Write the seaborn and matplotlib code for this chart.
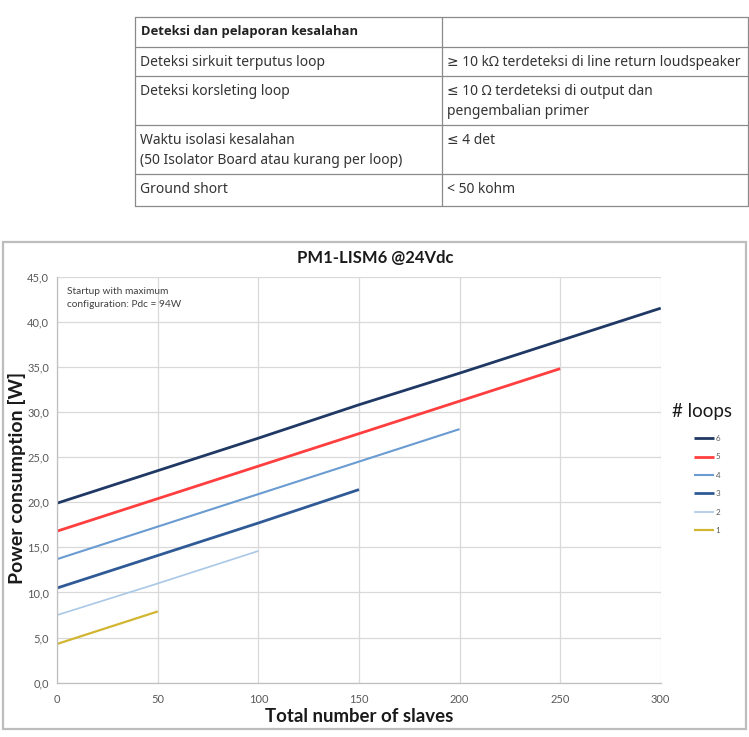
import matplotlib
matplotlib.use("Agg")
import matplotlib.pyplot as plt
import seaborn as sns
import pandas as pd
from matplotlib.ticker import FuncFormatter, MultipleLocator
from matplotlib.lines import Line2D

# ---- table content ----
table_rows = [
    ("Deteksi dan pelaporan kesalahan", ""),
    ("Deteksi sirkuit terputus loop", "≥ 10 kΩ terdeteksi di line return loudspeaker"),
    ("Deteksi korsleting loop", "≤ 10 Ω terdeteksi di output dan\npengembalian primer"),
    ("Waktu isolasi kesalahan\n(50 Isolator Board atau kurang per loop)", "≤ 4 det"),
    ("Ground short", "< 50 kohm"),
]

# ---- chart data ----
loops = ["6", "5", "4", "3", "2", "1"]
slaves_6 = [0, 50, 100, 150, 200, 250, 300]
power_6 = [19.9, 23.5, 27.1, 30.8, 34.3, 37.9, 41.5]
slaves_5 = [0, 50, 100, 150, 200, 250]
power_5 = [16.8, 20.4, 24.0, 27.6, 31.2, 34.8]
slaves_4 = [0, 50, 100, 150, 200]
power_4 = [13.7, 17.3, 20.9, 24.5, 28.1]
slaves_3 = [0, 50, 100, 150]
power_3 = [10.5, 14.1, 17.7, 21.4]
slaves_2 = [0, 50, 100]
power_2 = [7.5, 11.0, 14.6]
slaves_1 = [0, 50]
power_1 = [4.3, 7.9]

colors = {"6": "#1F3864", "5": "#FF3F3F", "4": "#6A9BD1",
          "3": "#2F5A96", "2": "#A9C8E6", "1": "#D2B632"}
widths = {"6": 2.0, "5": 2.0, "4": 1.5, "3": 2.0, "2": 1.2, "1": 1.6}

frames = []
for name, xs, ys in [("6", slaves_6, power_6), ("5", slaves_5, power_5),
                     ("4", slaves_4, power_4), ("3", slaves_3, power_3),
                     ("2", slaves_2, power_2), ("1", slaves_1, power_1)]:
    frames.append(pd.DataFrame({"slaves": xs, "power": ys, "loops": name}))
df = pd.concat(frames, ignore_index=True)

sns.set_style("white")
W, H = 749, 737
fig = plt.figure(figsize=(W / 100, H / 100), dpi=100)

# background axes in pixel coordinates for the table and chart frame
bg = fig.add_axes([0, 0, 1, 1])
bg.set_xlim(0, W)
bg.set_ylim(H, 0)
bg.axis("off")

tl, tr, tmid = 135, 748, 442
row_y = [16.7, 46.7, 75.7, 125, 174.3, 205.7]
border = "#8A8A8A"
for y in row_y:
    bg.plot([tl, tr], [y, y], color=border, lw=0.9)
for x in (tl, tmid, tr):
    bg.plot([x, x], [row_y[0], row_y[-1]], color=border, lw=0.9)

tfont = ["Noto Sans", "DejaVu Sans"]
for i, (left, right) in enumerate(table_rows):
    top = row_y[i]
    for j, line in enumerate(left.split("\n")):
        if i == 0:
            bg.text(tl + 6, top + 15, line, va="center", ha="left",
                    fontsize=9.4, family=["Open Sans", "DejaVu Sans"],
                    color="#222222", fontweight="bold")
        else:
            bg.text(tl + 5, top + 15.5 + j * 20, line, va="center", ha="left",
                    fontsize=10, family=tfont, color="#333333")
    for j, line in enumerate(right.split("\n")):
        bg.text(tmid + 5, top + 15.5 + j * 20, line, va="center", ha="left",
                fontsize=10, family=tfont, color="#333333")

# chart frame
bg.add_patch(plt.Rectangle((3, 242), 743, 487, fill=False,
                           edgecolor="#BDBDBD", lw=1.6))

# chart axes
x0, x1 = 57.3, 660.7
y0, y1 = 682.7, 276.6
ax = fig.add_axes([x0 / W, 1 - y0 / H, (x1 - x0) / W, (y0 - y1) / H])
ax.set_facecolor("none")

sns.lineplot(data=df, x="slaves", y="power", hue="loops", size="loops",
             palette=colors, sizes=widths, hue_order=loops, ax=ax,
             legend=False, solid_capstyle="butt")

ax.set_xlim(0, 300)
ax.set_ylim(0, 45)
ax.xaxis.set_major_locator(MultipleLocator(50))
ax.yaxis.set_major_locator(MultipleLocator(5))
ax.yaxis.set_major_formatter(FuncFormatter(lambda v, _: f"{v:.1f}".replace(".", ",")))
ax.grid(True, color="#D9D9D9", lw=0.9)
for s in ("top", "right"):
    ax.spines[s].set_visible(False)
for s in ("left", "bottom"):
    ax.spines[s].set_color("#BFBFBF")
    ax.spines[s].set_linewidth(0.9)
ax.tick_params(axis="y", length=4, color="#BFBFBF", labelsize=8,
               labelcolor="#595959", pad=2)
ax.tick_params(axis="x", length=0, labelsize=8, labelcolor="#595959", pad=8)
for lab in ax.get_xticklabels() + ax.get_yticklabels():
    lab.set_family("Lato")

cfont = "Lato"
ax.set_xlabel("")
ax.set_ylabel("")
fig.text(359 / W, 1 - 717 / H, "Total number of slaves", ha="center",
         va="center", fontsize=13.4, fontweight="bold", family=cfont, color="#1A1A1A")
fig.text(17 / W, 1 - 478 / H, "Power consumption [W]", ha="center",
         va="center", rotation=90, fontsize=14, fontweight="bold",
         family=cfont, color="#1A1A1A")
fig.text(375 / W, 1 - 258 / H, "PM1-LISM6 @24Vdc", ha="center", va="center",
         fontsize=12, fontweight="bold", family=cfont, color="#1A1A1A")
ax.text(5, 43.8, "Startup with maximum\nconfiguration: Pdc = 94W", ha="left",
        va="top", fontsize=7.3, family=cfont, color="#404040", linespacing=1.55)

# legend: title as text, entries as a legend
fig.text(701.5 / W, 1 - 411 / H, "# loops", ha="center", va="center",
         fontsize=13.5, family=cfont, color="#1A1A1A")
handles = [Line2D([], [], color=colors[k], lw=widths[k], solid_capstyle="butt")
           for k in loops]
leg = ax.legend(handles, loops, loc="upper left",
                bbox_to_anchor=(694 / W, 1 - 435 / H),
                bbox_transform=fig.transFigure, frameon=False,
                borderpad=0, borderaxespad=0,
                handlelength=2.5, handletextpad=0.2, labelspacing=1.42,
                prop={"family": cfont, "size": 5.8})
for t in leg.get_texts():
    t.set_color("#595959")

fig.savefig("out.png", dpi=100)
